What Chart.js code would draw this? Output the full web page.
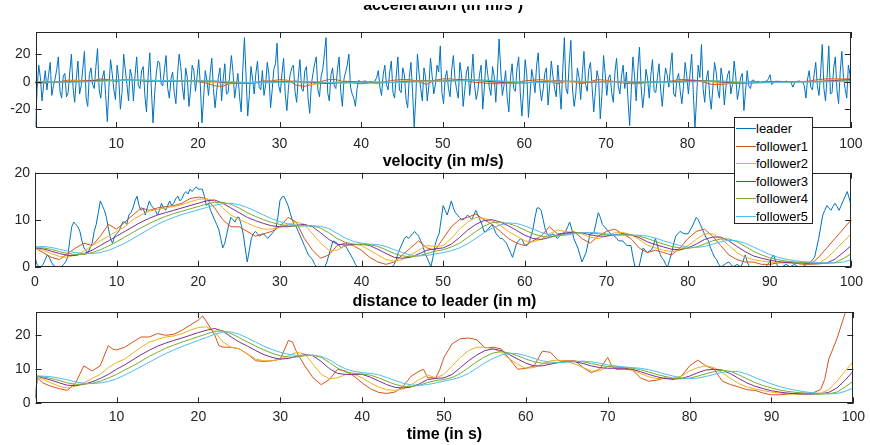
<!DOCTYPE html>
<html><head><meta charset="utf-8">
<script src="https://cdn.jsdelivr.net/npm/chart.js@4.4.1/dist/chart.umd.min.js"></script>
<style>
html,body{margin:0;padding:0;background:#fff;width:870px;height:445px;overflow:hidden;position:relative;}
.panel{position:absolute;left:0;width:870px;}
#topcut{position:absolute;left:0;top:0;width:870px;height:5px;background:#fff;z-index:4;}
#legend{position:absolute;left:734px;top:117px;width:77px;height:105px;border:1px solid #262626;background:#fff;z-index:5;font:13px "Liberation Sans",Arial,sans-serif;color:#000;}
.row{position:absolute;left:0;height:17px;width:77px;}
.row i{position:absolute;left:1px;top:8px;width:20px;height:0;border-top:1px solid;}
.row span{position:absolute;left:21px;top:0;line-height:17px;white-space:nowrap;}
</style></head>
<body>
<div class="panel" style="top:-10px;height:162px"><canvas id="cAcc"></canvas></div>
<div class="panel" style="top:152px;height:143px"><canvas id="cVel"></canvas></div>
<div class="panel" style="top:285px;height:160px"><canvas id="cDist"></canvas></div>
<div id="topcut"></div>
<div id="legend"></div>
<script>
// ---------------- data ----------------
const seriesNames = ['leader','follower1','follower2','follower3','follower4','follower5'];
const seriesColors = ['#0072BD','#D95319','#EDB120','#7E2F8E','#77AC30','#4DBEEE'];
const titles = ['acceleration (in m/s²)','velocity (in m/s)','distance to leader (in m)'];
const xLabel = 'time (in s)';

const xTicksAcc = [10,20,30,40,50,60,70,80,90,100];
const xTicksVel = [0,10,20,30,40,50,60,70,80,90,100];
const xTicksDist = [10,20,30,40,50,60,70,80,90,100];
const yTicksAcc = [-20,0,20];
const yTicksVel = [0,10,20];
const yTicksDist = [0,10,20];
const xRangeAcc = [0.1,100], yRangeAcc = [-33.7,36.1];
const xRangeVel = [0,100], yRangeVel = [0,20];
const xRangeDist = [0.1,100], yRangeDist = [0,26.85];

// leader acceleration, sampled every 0.2 s from t = 0.1
const accLeaderStart = 0.1, accLeaderStep = 0.2;
const accLeader = [
-33,-5,12,3,-14,-2,8,-6,5,14,-10,-3,2,9,18,-7,-12,4,6,-11,
-8,7,20,-4,-15,2,15,-9,-3,10,22,-12,-18,5,10,-2,-5,11,24,-6,
-12,3,8,-10,-29,-4,16,6,-6,-13,12,2,-20,-8,20,9,-2,-14,9,4,
-14,5,18,-3,-5,8,11,-10,-22,4,21,-6,-30,-9,6,15,14,-2,-3,9,
19,-5,-12,2,7,-8,-16,5,20,11,-4,-13,10,3,-18,-6,12,8,-7,4,
16,-3,-30,-12,8,1,-10,6,17,-5,-19,-7,3,10,-14,2,13,-9,-8,5,
19,7,-12,-3,6,-11,-22,9,32,4,-25,-10,11,2,-9,6,15,-4,-6,8,
-10,-2,14,5,-19,-6,9,13,28,-3,-8,6,17,-9,-21,-4,5,10,12,-7,
-15,3,16,-5,-7,8,11,-12,-23,-2,6,13,18,-6,-11,4,9,20,32,-8,
-14,5,10,-3,-5,9,18,-7,-18,2,7,12,20,-4,-9,-12,-18,-5,1,0,
0,0.3,0.5,0,-0.5,0.2,0,-0.3,0.5,3,8,-4,-10,5,12,-2,-6,7,15,-8,
-12,4,18,-6,-8,10,5,-13,-19,3,14,-7,-33,-11,20,6,-5,-14,10,3,
-14,-3,17,4,-9,-2,12,7,26,-8,-16,3,8,-5,-11,9,19,2,-6,-12,
14,5,-18,-6,7,11,-10,2,20,-3,-13,-7,5,12,-20,-4,16,6,-4,-10,
11,4,-15,6,31,9,-10,-3,8,-12,-22,3,13,-5,-7,10,18,-8,-25,-6,
16,5,-26,-9,9,2,-8,12,21,-4,-14,-6,6,10,-17,-3,15,4,-5,-11,
12,-3,-20,8,32,-5,-9,14,30,-6,-18,-9,10,3,-13,6,22,-2,-7,9,
14,-4,-22,-7,8,2,-27,-10,19,6,-10,3,5,-8,-15,7,17,-3,-9,4,
12,-5,7,-13,-32,-6,18,4,-14,9,25,-3,-19,-8,9,2,-12,5,16,-7,
-8,3,13,-6,-18,-2,10,5,-4,11,21,-9,-11,2,6,-7,-16,-3,14,4,
-9,6,20,-8,-34,-12,12,3,27,-5,-15,2,8,-10,-20,-4,14,7,-6,-12,
10,2,-17,-4,5,8,-9,-2,15,4,-13,-6,3,6,-21,-7,8,-3,-5,1,
1,0,0,0.3,-0.5,0,0,0.2,0.5,2,5,-2,-1,0,0,0.2,-0.5,0,0,0,
0.5,0,0,-1,-4,-1,0,0.3,0.5,0,0,-3,-12,2,8,-4,-6,5,14,-3,
-10,6,27,-5,-14,4,26,-9,-8,10,18,-6,-16,7,22,3,-5,-12,12,5,
-33];
// follower1 acceleration every 1 s
const accF1 = [
-1,-1,-0.5,0,1,1,0.5,0.5,2,1.5,
0,1.5,1.5,0.5,0,0.5,0.3,0.3,0.8,0.8,
0,-1,-3,-3.5,-1,-0.5,-1.5,-0.5,0.5,0.5,
1.5,1,-2.5,-3.5,-2,0,1.5,1.5,-0.5,-1,
-1.5,-1,-1,0,1,1.5,1.5,0,-2,1,
2,2,1,0.5,-0.5,-1,-1.5,-1.5,-1,-0.5,
0.5,1,1.5,0.5,-1.5,0,0,-1.5,0,1.5,
1,0,-1,-1.5,-1.5,-0.5,0,-0.5,0.5,1.5,
1.5,1,-0.5,-2,-2,-1.5,-0.5,-0.5,0,-0.3,
0,0.3,0,-0.3,0,0.5,1.5,2,2,2,2];
// followers 2..5 acceleration every 2 s
const accF2 = [-0.5,-0.6,0.2,1,1,1,1.5,0.8,0.3,0.5,0.5,-0.8,-1.5,-0.8,-0.3,0.5,0.3,-2,-1,0.5,-0.5,-1,-0.2,1,0.5,0.5,1.8,0.8,-0.5,-1.2,-0.8,0.5,0.5,-0.3,-0.5,0.5,0,-1,-0.5,0,1,0.8,-1,-1.3,-0.5,-0.2,0,0,0.2,1.7,1.7];
const accF3 = [-0.3,-0.4,-0.2,0.4,1,1,1,0.8,0.5,0.5,0.5,0.2,-1,-1,-0.5,-0.1,0.3,-0.5,-1.4,-0.2,0,-0.8,-0.6,0.3,0.5,0.3,1.4,1,0,-0.9,-0.9,-0.1,0.5,0.1,-0.3,0,0.2,-0.7,-0.5,-0.3,0.6,0.8,-0.2,-1.1,-0.8,-0.3,-0.2,0,0,0.8,1.5];
const accF4 = [0,-0.4,-0.4,0,0.6,0.9,1,0.9,0.7,0.5,0.5,0.4,-0.6,-1,-0.6,-0.4,-0.1,0,-1,-0.8,-0.1,-0.5,-0.7,-0.1,0.5,0.3,0.8,1.3,0.8,-0.3,-0.8,-0.5,0.2,0.3,0,-0.2,0.1,-0.3,-0.6,-0.5,0,0.6,0.4,-0.6,-1,-0.6,-0.3,-0.1,-0.1,0.2,1];
const accF5 = [0.1,-0.2,-0.4,-0.2,0.2,0.7,1,1,0.8,0.6,0.5,0.5,0.1,-0.6,-0.8,-0.6,-0.3,0,-0.5,-1,-0.4,-0.1,-0.7,-0.4,0.1,0.3,0.5,1.1,1,0.2,-0.6,-0.6,-0.1,0.3,0.1,-0.2,-0.1,0,-0.4,-0.5,-0.3,0.2,0.5,-0.1,-0.8,-0.8,-0.4,-0.2,-0.1,0,0.5];

// leader velocity every 0.25 s from t = 0
const velLeaderStep = 0.25;
const velLeader = [
2,0.5,0,0,0.5,1.5,2.5,2,1,0.3,0,0,0,0,0.5,1,2,5.5,8.5,9.5,
9,8.5,7.5,5.5,4,3.5,3,4,5,7.5,9,11.5,14,13,12,10.5,8,6,5,6.5,
7,7.5,8.5,9.5,9.5,9,11,11.5,12.5,14,15,13,12,12.5,11,12.5,14,13,12.5,12,
11,12,13.5,12.5,12,13,14,13,13.5,14.5,15,14,14.5,15.5,16,15.5,16.5,16,16.5,17,
16.5,16.5,16.5,15,13,13.5,12,11,10,9,8,6,4,5,7,9,10.5,10,9.5,10.5,
10.5,9,7,4,1,3.5,6,7,7.5,7,6.5,6.8,7,6.5,6,6.5,7,7.5,8,10.5,
14,14.8,15,14,13,11.5,10,9,8.5,7.5,6.5,5.5,4.5,3.5,2.5,2,1.5,0.5,0,0,
0,0,0,1,2.5,4,5.5,5.3,5,4.5,4,4.3,4.5,3.8,3,2.3,1.5,0.5,0,0,
0,0,0,0,0,0,0,0,0,0,0,0,0,0,0,0,0.5,1.5,3,4,
5,6,6.5,6,6.5,7,7.5,7,6.5,5.5,4.5,3,2,1,0,2,4.5,6,7,10,
13,12,11,12.5,14,12.5,11.5,11,10.5,10,10,10.5,11,10.5,10,11,12,11,10,9,
7.5,7.5,8,8.5,9,8,7,6.5,6,6,5.5,5,4,3,2,3.5,5,5.5,6,5.5,
4.5,4.5,5,6.5,8,10.5,12.5,12.5,12,10,8,7,6.5,6.8,7,6.5,6,6.5,7,7.2,
7.5,8.5,9.5,8,6,5,4,2.5,1,2,3,5,7,7,7.5,9.5,11.5,10.5,9,8.5,
8,7.5,7,6.8,6.5,6,5.5,5.5,5.5,5,4.5,4.5,4.5,2,0,0,0,2,4,3.5,
3,3.3,3.5,4.5,6,4.5,3,2,1.5,0.5,0,1.5,3,5,6.5,7,7.5,7.3,7,7,
7,7.8,8.5,9.5,10.5,10,9,8,7,6,5.5,4,3,2,1.5,0.5,0,0.2,0.5,0.8,
1,0.5,0,0.2,0.5,0.2,0,1.2,2.5,1,0,0,0,0,0,0,0,0,0,0.5,
1,2,2.5,1,0,0,0,0.2,0.5,0.2,0,0.2,0.5,0.2,0,0,0,0.2,0.5,0.8,
1,1.5,2,4,6,8.5,11,12,13,12.5,12,12.8,13.5,12.8,12,13,14,15,16,14.5,
13];
// follower velocities every 1 s
const velF1 = [
4,3,2,1.5,2.8,4,5,4.5,6.5,9,
8,9.5,11,12.5,12,12.5,12.8,13,13.5,14.5,
14.8,14.5,12.5,10,8.5,8.5,7.5,6.5,7,7.5,
8.5,10.5,9.5,6,3.5,1.8,2.5,4.5,5,4.5,
3.5,2,1,0.5,1,2.5,4,5.5,4,3.5,
6,8.5,10,10.5,11.2,10,9,7.5,6,5,
4.5,5.5,6.5,8.5,7,7,7.5,6,5,6.5,
7.5,8,7,6,4,3,3.5,3,2.5,4,
6,7.5,8,6.5,4.5,2.5,1.5,1,1,0.5,
0.5,0.8,1,0.8,0.5,0.5,2,4,6,8,10];
const velF2 = [
4,3.5,2.8,2.2,2,2.5,3.3,4.5,5.5,6.5,
7.5,8.5,10,11,11.8,12.2,12.5,12.8,13.2,13.8,
14.3,14.5,14,12.5,11,10,9.3,8.5,8,8,
8.5,9,9.5,9,7,5,3.5,3.5,4.5,4.8,
4.5,3.5,2.5,1.5,1.2,1.5,2.5,3.5,4.5,4.3,
4.5,6,8,9.5,10.5,10.3,9.8,8.8,7.5,6.5,
5.5,5.3,5.8,7,7.8,7.5,7.3,7,6.3,6,
6.5,7.2,7.3,6.8,5.8,4.6,4,3.5,3.2,3.5,
4.5,5.8,7,7,6,4.5,3,2,1.5,1.2,
1,0.8,0.8,0.8,0.7,0.5,0.7,1.8,3.5,5.3,7];
const velF3 = [
4,3.8,3.3,2.8,2.4,2.4,2.8,3.5,4.5,5.5,
6.5,7.5,8.5,9.5,10.3,11,11.5,12,12.5,13,
13.5,14,14.2,13.5,12.5,11.5,10.5,9.8,9.2,8.7,
8.5,8.5,8.8,9,8.5,7.2,5.8,4.8,4.6,4.7,
4.8,4.5,3.7,2.8,2,1.8,2,2.7,3.5,3.8,
4,4.8,6.2,7.8,9,9.8,10,9.5,8.7,7.7,
6.7,6,5.8,6.2,6.8,7.2,7.3,7.2,6.8,6.5,
6.5,6.8,7,6.8,6.2,5.3,4.7,4.2,3.7,3.6,
4,4.8,5.8,6.3,6.3,5.5,4.3,3.2,2.3,1.8,
1.4,1.1,0.9,0.8,0.8,0.6,0.6,0.8,1.6,3,4.5];
const velF4 = [
4,4,3.7,3.2,2.8,2.6,2.6,3,3.6,4.4,
5.3,6.3,7.3,8.3,9.2,10,10.7,11.3,11.8,12.3,
12.8,13.3,13.7,13.7,13.3,12.5,11.5,10.7,10,9.4,
9,8.7,8.6,8.7,8.7,8.2,7.2,6,5.2,4.8,
4.7,4.7,4.3,3.6,2.8,2.3,2.1,2.3,2.8,3.3,
3.6,4.2,5,6.2,7.5,8.6,9.4,9.5,9.2,8.6,
7.8,7,6.5,6.3,6.5,6.9,7.2,7.3,7.2,7,
6.8,6.7,6.8,6.8,6.5,6,5.4,4.8,4.3,4,
3.9,4.2,4.8,5.5,5.9,5.9,5.3,4.3,3.3,2.5,
1.9,1.5,1.2,1,0.9,0.8,0.7,0.7,0.9,1.7,2.8];
const velF5 = [
4.2,4.3,4.1,3.7,3.3,3,2.8,2.8,3,3.5,
4.2,5,6,7,8,9,9.8,10.5,11.1,11.6,
12.1,12.6,13.1,13.4,13.5,13.2,12.6,11.8,11,10.2,
9.6,9.1,8.8,8.7,8.7,8.6,8.1,7.1,6.1,5.4,
5,4.8,4.7,4.3,3.6,3,2.5,2.3,2.4,2.7,
3,3.4,4,4.9,6,7.2,8.2,8.9,9.3,9.2,
8.7,8,7.3,6.8,6.6,6.7,7,7.2,7.3,7.2,
7,6.8,6.7,6.7,6.7,6.5,6.1,5.5,5,4.5,
4.2,4.1,4.3,4.8,5.3,5.6,5.5,5,4.2,3.4,
2.6,2,1.6,1.3,1.1,1,0.9,0.8,0.8,1,1.5];

// distance to leader
const distF1Time = [0.1,0.3,1,2,3,4,5,6,7,8,9,9.5,10,11,12,13,14,15,16,17,18,19,20,20.5,21,22,22.5,23,24,25,26,27,28,29,30,31,31.5,32,33,34,35,36,37,38,39,40,41,42,43,44,45,46,47,47.5,48,49,49.5,50,51,52,53,54,55,56,57,58,59,60,61,62,63,64,65,66,67,68,69,70,70.5,71,72,73,74,75,76,77,78,79,80,81,82,83,84,85,86,87,88,89,90,91,92,93,94,95,96,96.5,97,98,99,100];
const distF1 = [1.5,7.5,6,5,4.3,3.8,6,11,9.5,11,17,16,15.7,16.5,18,19.5,19.5,20.5,20,20.3,21.5,23,24.5,25.7,24,20,17,16.5,16.5,16,14.5,12.5,12.3,12.5,13,18.5,18,15,11,7.5,5.5,7,10,9.5,8,6,4.3,3.2,2.9,3.3,5,8,9.5,10,7.5,7.5,10,13.5,17.5,19,19.2,18.7,16.3,16.5,16,13,10,10.3,11,15.3,15,12.5,12.5,12.5,10.5,9,10,13.5,11,10,10,9.8,7.5,6.5,6.8,7.5,7,8,11,12.7,11,10,6.5,5.5,4.8,4,3.8,3,2.5,2.5,2.7,2.9,3,3,4,7,13,19,26.5,33];
// followers 2..5 sampled at t = 0.1, 0.3, then every 1 s from 1 to 100
const distF2 = [1.5,7.8,
7,6,5,4.5,5,6,7.3,8.5,10.5,12,
13,14.8,16.5,18,18.8,19.5,19.8,20.5,21.5,22.3,
22.5,21,18,16.5,16,14.5,13,12.5,12.5,13,
14,15,14.5,11.5,8.5,7.2,7.5,8.5,8.5,7.5,
6,4.8,4,3.8,4.2,5.5,7,8.3,7.5,8.5,
11,13.5,15.5,16.5,16.5,16,15,13,11.5,10.3,
10.5,11.5,12.5,12.7,12.3,11.5,10.5,9.5,9.5,10.8,
11,10.5,9.8,8.8,7.8,7.3,7.2,7.3,8,9.5,
10.5,11,10.5,9,7.3,5.8,4.8,4.2,3.7,3.3,
3,2.8,2.7,2.7,2.8,3,4,6.5,9.5,12.3];
const distF3 = [1.5,8,
7.5,6.8,6,5.3,5.2,5.6,6.3,7.3,8.5,10,
11.3,12.8,14.3,15.6,16.8,17.7,18.5,19.2,20,20.8,
21.5,22,21.2,19.5,18,16.8,15.5,14.3,13.5,13,
13.2,13.8,14.3,14,12.3,10.2,8.8,8.5,8.5,8.5,
7.7,6.6,5.5,4.7,4.5,4.8,5.7,7,7.3,7.5,
8.5,10.5,12.5,14.2,15.5,16,15.5,14.3,13,11.8,
11,11,11.5,12,12.3,12.2,11.7,11,10.5,10.3,
10.3,10.3,10,9.3,8.5,7.8,7.3,7.1,7.3,8,
9,9.8,10,9.8,8.7,7.3,6,5,4.3,3.7,
3.3,3,2.8,2.7,2.7,2.8,3.2,4.5,6.8,9.5];
const distF4 = [1.5,8,
7.8,7.3,6.7,6,5.6,5.6,5.9,6.5,7.4,8.5,
9.8,11,12.4,13.8,15,16.2,17.1,18,18.8,19.6,
20.4,21.2,21.3,20.5,19.3,18,16.8,15.7,14.7,14,
13.6,13.6,14,14.2,13.5,12,10.3,9.2,8.8,8.6,
8.3,7.5,6.5,5.6,5,4.9,5.3,6.1,6.7,7,
7.6,8.8,10.5,12.2,13.7,14.8,15.2,14.8,14,13,
12.2,11.8,11.8,12,12.3,12.4,12.2,11.7,11.2,10.8,
10.6,10.5,10.3,9.9,9.2,8.5,7.9,7.4,7.2,7.4,
8,8.7,9.3,9.7,9.4,8.4,7.2,6.1,5.2,4.5,
3.9,3.5,3.2,3,2.8,2.7,2.8,3.3,4.8,6.5];
const distF5 = [1.5,8,
8,7.8,7.4,6.9,6.3,5.9,5.8,6,6.4,7.2,
8.3,9.5,10.8,12.1,13.4,14.6,15.7,16.7,17.6,18.5,
19.4,20.3,21,21,20.3,19.2,18,16.8,15.8,15,
14.4,14.1,14.1,14.1,13.8,12.8,11.3,10.1,9.4,9,
8.8,8.4,7.6,6.7,5.9,5.4,5.3,5.5,6,6.5,
7,7.7,8.8,10.3,11.9,13.2,14.2,14.7,14.6,14,
13.2,12.5,12.1,12,12.1,12.3,12.4,12.2,11.8,11.3,
10.9,10.7,10.5,10.3,9.9,9.3,8.6,8,7.5,7.3,
7.4,7.9,8.5,9.1,9.4,9.3,8.6,7.6,6.6,5.7,
4.9,4.3,3.8,3.4,3.1,2.9,2.8,2.9,3.5,4.5];

// ---------------- helpers ----------------
const FONT = '"Liberation Sans", Arial, Helvetica, sans-serif';
const AXIS_COLOR = '#262626';

function pts(times, values){ return values.map((v,i)=>({x:times[i], y:v})); }
function grid(start, step, n){ const a=[]; for(let i=0;i<n;i++) a.push(+(start+step*i).toFixed(4)); return a; }
const distTime = [0.1,0.3].concat(grid(1,1,100));

function ds(idx, data){
  return { label: seriesNames[idx], data, borderColor: seriesColors[idx], backgroundColor: seriesColors[idx],
    borderWidth: 1, pointRadius: 0, pointHoverRadius: 0, tension: 0, fill: false, order: 10-idx };
}

const matlabBox = {
  id: 'matlabBox',
  afterDatasetsDraw(chart){
    const {ctx, chartArea:a, scales:{x,y}} = chart;
    ctx.save();
    ctx.strokeStyle = AXIS_COLOR; ctx.lineWidth = 1;
    const L = 6;
    ctx.beginPath();
    x.ticks.forEach(t=>{ const p=Math.round(x.getPixelForValue(t.value))+0.5;
      ctx.moveTo(p,a.top); ctx.lineTo(p,a.top+L); ctx.moveTo(p,a.bottom); ctx.lineTo(p,a.bottom-L); });
    y.ticks.forEach(t=>{ const p=Math.round(y.getPixelForValue(t.value))+0.5;
      ctx.moveTo(a.left,p); ctx.lineTo(a.left+L,p); ctx.moveTo(a.right,p); ctx.lineTo(a.right-L,p); });
    ctx.stroke();
    ctx.strokeRect(Math.round(a.left)+0.5, Math.round(a.top)+0.5, Math.round(a.right)-Math.round(a.left)-1, Math.round(a.bottom)-Math.round(a.top)-1);
    ctx.restore();
  }
};

function makeChart(id, cfg){
  const leftW = cfg.left, rightPad = 870 - cfg.right;
  return new Chart(document.getElementById(id), {
    type: 'line',
    data: { datasets: cfg.datasets },
    plugins: [matlabBox],
    options: {
      responsive: true, maintainAspectRatio: false, animation: false,
      layout: { padding: { left: 0, right: rightPad, top: 0, bottom: 0 } },
      plugins: {
        legend: { display: false }, tooltip: { enabled: false },
        title: { display: true, text: cfg.title, fullSize: false, color: '#000',
          font: { family: FONT, size: 16, weight: 'bold', lineHeight: 1.2 },
          padding: { top: cfg.tp[0], bottom: cfg.tp[1] } }
      },
      scales: {
        x: { type: 'linear', min: cfg.xr[0], max: cfg.xr[1],
          grid: { display: false, drawTicks: false, tickLength: 0 }, border: { display: false },
          ticks: { color: AXIS_COLOR, font: { family: FONT, size: 14 }, padding: cfg.xpad, maxRotation: 0, autoSkip: false },
          afterBuildTicks: s => { s.ticks = cfg.xt.map(v=>({value:v})); },
          afterFit: s => { s.height = cfg.xh; },
          title: cfg.xlabel ? { display: true, text: cfg.xlabel, color: '#000',
            font: { family: FONT, size: 16, weight: 'bold', lineHeight: 1.2 }, padding: { top: 0, bottom: 1 } } : { display: false }
        },
        y: { type: 'linear', min: cfg.yr[0], max: cfg.yr[1],
          grid: { display: false, drawTicks: false, tickLength: 0 }, border: { display: false },
          ticks: { color: AXIS_COLOR, font: { family: FONT, size: 14 }, padding: 5, autoSkip: false },
          afterBuildTicks: s => { s.ticks = cfg.yt.map(v=>({value:v})); },
          afterFit: s => { s.width = leftW; }
        }
      }
    }
  });
}

const accT = grid(accLeaderStart, accLeaderStep, accLeader.length);
const t1 = grid(0,1,101), t2 = grid(0,2,51), tVel = grid(0,velLeaderStep,velLeader.length);
makeChart('cAcc', {
  title: titles[0], tp: [5.9, 16.9], left: 35.5, right: 857.3, xh: 24, xpad: 7.5,
  xr: xRangeAcc, yr: yRangeAcc, xt: xTicksAcc, yt: yTicksAcc,
  datasets: [ds(0,pts(accT,accLeader)), ds(1,pts(t1,accF1)), ds(2,pts(t2,accF2)), ds(3,pts(t2,accF3)), ds(4,pts(t2,accF4)), ds(5,pts(t2,accF5))]
});
const velChart = makeChart('cVel', {
  title: titles[1], tp: [0.2, 1.3], left: 35, right: 857.3, xh: 28.3, xpad: 7,
  xr: xRangeVel, yr: yRangeVel, xt: xTicksVel, yt: yTicksVel,
  datasets: [ds(0,pts(tVel,velLeader)), ds(1,pts(t1,velF1)), ds(2,pts(t1,velF2)), ds(3,pts(t1,velF3)), ds(4,pts(t1,velF4)), ds(5,pts(t1,velF5))]
});
makeChart('cDist', {
  title: titles[2], tp: [6.6, 1.2], left: 35.5, right: 857.3, xh: 41.7, xpad: 5, xlabel: xLabel,
  xr: xRangeDist, yr: yRangeDist, xt: xTicksDist, yt: yTicksDist,
  datasets: [ds(1,pts(distF1Time,distF1)), ds(2,pts(distTime,distF2)), ds(3,pts(distTime,distF3)), ds(4,pts(distTime,distF4)), ds(5,pts(distTime,distF5))]
});

// legend built from the velocity chart datasets
const leg = document.getElementById('legend');
velChart.data.datasets.forEach((d,k)=>{
  const r = document.createElement('div'); r.className='row'; r.style.top = (2 + 17.5*k) + 'px';
  const i = document.createElement('i'); i.style.borderTopColor = d.borderColor;
  const s = document.createElement('span'); s.textContent = d.label;
  r.appendChild(i); r.appendChild(s); leg.appendChild(r);
});
</script>
</body></html>
